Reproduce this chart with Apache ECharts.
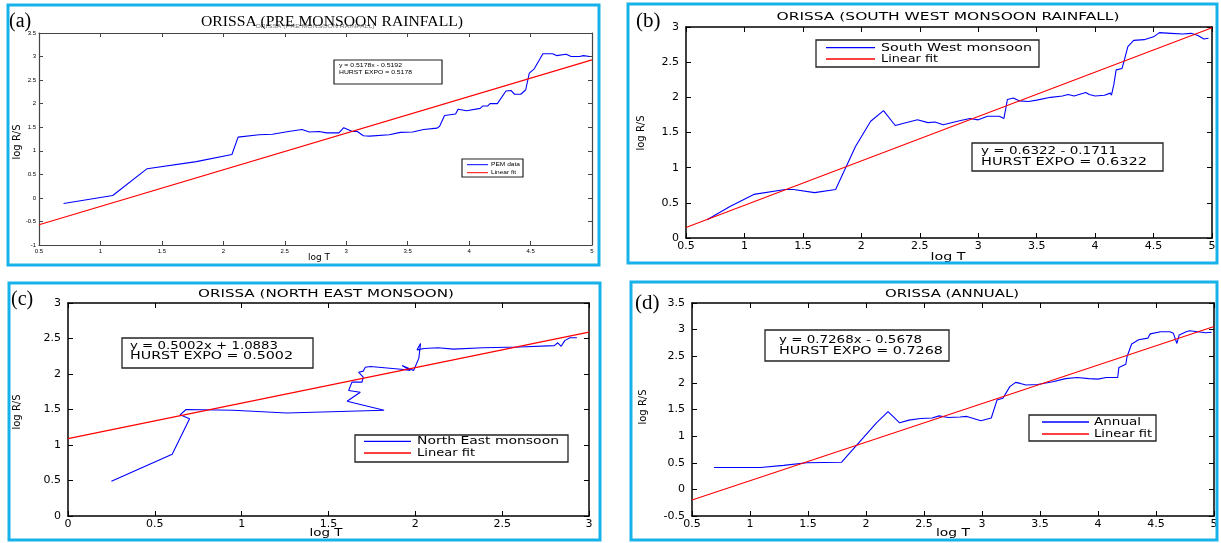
<!DOCTYPE html>
<html><head><meta charset="utf-8">
<script src="https://cdn.jsdelivr.net/npm/echarts@6/dist/echarts.min.js"></script>
<style>html,body{margin:0;padding:0;background:#fff}#c{width:1221px;height:543px}</style>
</head><body><div id="c"></div>
<script>
// ---------- DATA ----------
// (a) Pre monsoon
const preLogT  = [0.70,1.10,1.38,1.78,2.07,2.12,2.29,2.40,2.53,2.64,2.70,2.78,2.84,2.94,2.98,3.05,3.09,3.14,3.19,3.35,3.44,3.54,3.63,3.74,3.76,3.80,3.89,3.91,3.98,4.09,4.11,4.15,4.17,4.23,4.30,4.34,4.37,4.42,4.46,4.49,4.53,4.57,4.60,4.68,4.71,4.79,4.83,4.90,4.93,4.98];
const preLogRS = [-0.12,0.05,0.62,0.77,0.92,1.29,1.34,1.35,1.41,1.45,1.40,1.41,1.38,1.38,1.49,1.41,1.41,1.32,1.31,1.34,1.39,1.40,1.45,1.48,1.52,1.75,1.78,1.88,1.85,1.90,1.95,1.95,2.00,2.00,2.27,2.28,2.20,2.20,2.29,2.65,2.74,2.92,3.06,3.06,3.02,3.05,3.00,3.00,3.02,3.00];
const preFitLogT  = [0.5, 5];
const preFitLogRS = [-0.57, 2.93];

// (b) South west monsoon
const swLogT  = [0.68,0.88,1.08,1.35,1.42,1.60,1.78,1.95,2.08,2.19,2.29,2.48,2.57,2.63,2.70,2.85,2.93,3.00,3.08,3.18,3.22,3.25,3.30,3.35,3.43,3.50,3.62,3.72,3.77,3.82,3.92,3.95,4.00,4.08,4.13,4.14,4.16,4.18,4.23,4.25,4.28,4.33,4.42,4.50,4.55,4.65,4.75,4.82,4.88,4.93,4.97];
const swLogRS = [0.26,0.45,0.62,0.69,0.69,0.645,0.69,1.30,1.66,1.81,1.60,1.68,1.64,1.65,1.61,1.67,1.70,1.68,1.73,1.73,1.70,1.97,1.99,1.95,1.94,1.96,2.00,2.02,2.04,2.02,2.07,2.04,2.02,2.03,2.06,2.03,2.18,2.39,2.41,2.53,2.72,2.81,2.82,2.86,2.92,2.91,2.90,2.91,2.88,2.83,2.84];
const swFitLogT  = [0.5, 5];
const swFitLogRS = [0.15, 2.99];

// (c) North east monsoon
const neLogT  = [0.25,0.60,0.70,0.645,0.68,0.95,1.26,1.82,1.607,1.683,1.616,1.635,1.693,1.70,1.673,1.70,1.712,1.741,1.933,1.971,1.924,1.99,2.02,2.03,2.01,2.05,2.13,2.22,2.39,2.60,2.80,2.82,2.84,2.86,2.89,2.93];
const neLogRS = [0.49,0.87,1.37,1.425,1.50,1.49,1.45,1.49,1.617,1.744,1.768,1.885,1.885,1.955,2.025,2.04,2.096,2.106,2.063,2.05,2.12,2.05,2.22,2.43,2.34,2.36,2.37,2.35,2.37,2.38,2.40,2.44,2.39,2.47,2.51,2.51];
const neFitLogT  = [0, 3];
const neFitLogRS = [1.09, 2.59];

// (d) Annual
const anLogT  = [0.69,1.09,1.29,1.49,1.79,2.09,2.19,2.29,2.37,2.47,2.57,2.63,2.71,2.81,2.87,2.99,3.08,3.13,3.18,3.24,3.29,3.33,3.38,3.48,3.61,3.72,3.82,3.92,4.00,4.07,4.17,4.18,4.24,4.25,4.29,4.35,4.43,4.45,4.54,4.62,4.65,4.68,4.70,4.76,4.79,4.86,4.93,4.98];
const anLogRS = [0.41,0.41,0.45,0.50,0.51,1.25,1.46,1.25,1.30,1.33,1.34,1.38,1.35,1.36,1.37,1.29,1.34,1.68,1.71,1.93,2.01,1.99,1.96,1.97,2.02,2.08,2.10,2.08,2.07,2.10,2.10,2.29,2.35,2.49,2.73,2.81,2.84,2.92,2.96,2.96,2.93,2.74,2.90,2.96,2.98,2.96,2.94,2.95];
const anFitLogT  = [0.5, 5];
const anFitLogRS = [-0.2, 3.06];

// axis ranges [min, max, interval]
const xRangeA = [0.5, 5, 0.5], yRangeA = [-1, 3.5, 0.5];
const xRangeB = [0.5, 5, 0.5], yRangeB = [0, 3, 0.5];
const xRangeC = [0, 3, 0.5],   yRangeC = [0, 3, 0.5];
const xRangeD = [0.5, 5, 0.5], yRangeD = [-0.5, 3.5, 0.5];

// texts
const titles = ['ORISSA (PRE MONSOON RAINFALL)','ORISSA (SOUTH WEST MONSOON RAINFALL)','ORISSA (NORTH EAST MONSOON)','ORISSA (ANNUAL)'];
const eqLines = [
  ['y = 0.5178x - 0.5192','HURST EXPO = 0.5178'],
  ['y = 0.6322 - 0.1711','HURST EXPO = 0.6322'],
  ['y = 0.5002x + 1.0883','HURST EXPO = 0.5002'],
  ['y = 0.7268x - 0.5678','HURST EXPO = 0.7268']
];
const legendNames = [['PEM data','Linear fit'],['South West monsoon','Linear fit'],['North East monsoon','Linear fit'],['Annual','Linear fit']];
const panelTags = ['(a)','(b)','(c)','(d)'];

// ---------- BUILD ----------
function pairs(xs, ys){ return xs.map((x,i)=>[x, ys[i]]); }
const mctx = document.createElement('canvas').getContext('2d');
function scaleFor(text, size, family, w){ mctx.font = size + 'px ' + family; return w / mctx.measureText(text).width; }

const SANS = 'DejaVu Sans';
const grids = [
  {left:39,  top:33,  width:553, height:212},
  {left:686, top:27,  width:526, height:211},
  {left:68,  top:303, width:521, height:213},
  {left:692, top:303, width:522, height:213}
];
const ranges = [[xRangeA,yRangeA],[xRangeB,yRangeB],[xRangeC,yRangeC],[xRangeD,yRangeD]];
const labelSize = [6, 11, 11, 11];
const axisColor = ['#444','#000','#000','#000'];

const xAxes = [], yAxes = [];
ranges.forEach((r,gi)=>{
  const [xr, yr] = r;
  const common = (pos, show) => ({
    gridIndex: gi, type:'value', position: pos, scale:false,
    axisLine:{show:true, onZero:false, lineStyle:{color:axisColor[gi], width: gi===0?1.2:1.5}},
    axisTick:{show:true, inside:true, length: gi===0?4:5, lineStyle:{color:axisColor[gi], width:1}},
    splitLine:{show:false},
    axisLabel:{show:show, fontSize:labelSize[gi], fontFamily: gi===0?'Liberation Sans':SANS, color:'#000',
               margin: gi===0?3:(pos==='bottom'?3:7)}
  });
  xAxes.push(Object.assign(common('bottom', true), {min:xr[0], max:xr[1], interval:xr[2]}));
  xAxes.push(Object.assign(common('top', false), {min:xr[0], max:xr[1], interval:xr[2]}));
  yAxes.push(Object.assign(common('left', true), {min:yr[0], max:yr[1], interval:yr[2]}));
  yAxes.push(Object.assign(common('right', false), {min:yr[0], max:yr[1], interval:yr[2]}));
});

const dataSets = [
  [pairs(preLogT, preLogRS), pairs(preFitLogT, preFitLogRS)],
  [pairs(swLogT, swLogRS), pairs(swFitLogT, swFitLogRS)],
  [pairs(neLogT, neLogRS), pairs(neFitLogT, neFitLogRS)],
  [pairs(anLogT, anLogRS), pairs(anFitLogT, anFitLogRS)]
];
const series = [];
dataSets.forEach((ds, gi)=>{
  series.push({type:'line', name:legendNames[gi][0], xAxisIndex:gi*2, yAxisIndex:gi*2, data:ds[0],
    showSymbol:false, symbol:'none', lineStyle:{color:'#0000ff', width:1.1}, z:3});
  series.push({type:'line', name:legendNames[gi][1], xAxisIndex:gi*2, yAxisIndex:gi*2, data:ds[1],
    showSymbol:false, symbol:'none', lineStyle:{color:'#ff0000', width:1.1}, z:4});
});

// ---------- GRAPHICS (layout) ----------
const g = [];
function txt(text, x, y, size, family, w, align, extra){
  const el = {type:'text', x:x, y:y, z:100,
    scaleX: w ? scaleFor(text, size, family, w) : 1,
    style:{text:text, fontSize:size, fontFamily:family, fill:'#000', align:align||'left', verticalAlign:'middle'}};
  return Object.assign(el, extra||{});
}
function box(x, y, w, h, lw){
  g.push({type:'rect', z:90, shape:{x:x, y:y, width:w, height:h}, style:{fill:'#fff', stroke:'#222', lineWidth:lw||1.3}});
}
function seg(x1,y1,x2,y2,color,lw){
  g.push({type:'line', z:100, shape:{x1:x1,y1:y1,x2:x2,y2:y2}, style:{stroke:color, lineWidth:lw||1.3}});
}
// cyan panel frames
[[8,5,591,260],[628,4,589,259],[9,283,591,257],[631,282,586,258]].forEach(b=>{
  g.push({type:'rect', z:110, shape:{x:b[0], y:b[1], width:b[2], height:b[3]}, style:{fill:'none', stroke:'#18b2ea', lineWidth:3}});
});

// panel tags
g.push(txt(panelTags[0], 9, 22, 20, 'Liberation Serif', 0, 'left'));
g.push(txt(panelTags[1], 636, 21, 21, 'Liberation Serif', 0, 'left'));
g.push(txt(panelTags[2], 11, 300, 20, 'Liberation Serif', 0, 'left'));
g.push(txt(panelTags[3], 635, 303, 21, 'Liberation Serif', 0, 'left'));

// titles
g.push(txt(titles[0], 315, 27, 5, 'Liberation Sans', 119, 'center', {style:{text:titles[0], fontSize:5, fontFamily:'Liberation Sans', fill:'#777', align:'center', verticalAlign:'middle'}}));
g.push(txt(titles[0], 332, 22, 15, 'Liberation Serif', 262, 'center'));
g.push(txt(titles[1], 948, 17, 10, SANS, 343, 'center'));
g.push(txt(titles[2], 326, 294, 10, SANS, 256, 'center'));
g.push(txt(titles[3], 952, 294, 10, SANS, 134, 'center'));

// axis names
g.push(txt('log T', 319, 258, 8, SANS, 22, 'center'));
g.push(txt('log T', 948, 257, 10, SANS, 35, 'center'));
g.push(txt('log T', 326, 533, 10, SANS, 33, 'center'));
g.push(txt('log T', 953, 533, 10, SANS, 34, 'center'));
[[17,142],[641,133],[17,412],[643,407]].forEach(p=>{
  g.push({type:'text', x:p[0], y:p[1], z:100, rotation:Math.PI/2,
    style:{text:'log R/S', fontSize:10, fontFamily:SANS, fill:'#000', align:'center', verticalAlign:'middle'}});
});

// equation boxes
box(334, 60, 108, 24, 1.2);
g.push(txt(eqLines[0][0], 339, 65.5, 6, 'Liberation Sans', 63, 'left'));
g.push(txt(eqLines[0][1], 339, 72, 6, 'Liberation Sans', 73, 'left'));
box(972, 143, 191, 28);
g.push(txt(eqLines[1][0], 981, 151, 10, SANS, 136, 'left'));
g.push(txt(eqLines[1][1], 981, 162, 10, SANS, 166, 'left'));
box(122, 338, 191, 30);
g.push(txt(eqLines[2][0], 130, 346, 10, SANS, 148, 'left'));
g.push(txt(eqLines[2][1], 130, 356, 10, SANS, 163, 'left'));
box(765, 330, 184, 31);
g.push(txt(eqLines[3][0], 779, 340, 10, SANS, 143, 'left'));
g.push(txt(eqLines[3][1], 779, 351, 10, SANS, 164, 'left'));

// legend boxes
box(462, 159, 61, 18, 1.2);
seg(467, 164.7, 488, 164.7, '#0000ff', 1); seg(467, 172.7, 488, 172.7, '#ff0000', 1);
g.push(txt(legendNames[0][0], 491, 164.7, 5.5, 'Liberation Sans', 29, 'left'));
g.push(txt(legendNames[0][1], 491, 172.7, 5.5, 'Liberation Sans', 25, 'left'));

box(816, 40, 223, 27);
seg(826, 47.7, 875, 47.7, '#0000ff'); seg(826, 59, 875, 59, '#ff0000');
g.push(txt(legendNames[1][0], 881, 48, 10, SANS, 151, 'left'));
g.push(txt(legendNames[1][1], 881, 59.5, 10, SANS, 57, 'left'));

box(355, 435, 213, 27);
seg(364, 441.3, 411, 441.3, '#0000ff'); seg(364, 453, 411, 453, '#ff0000');
g.push(txt(legendNames[2][0], 417, 441.5, 10, SANS, 142, 'left'));
g.push(txt(legendNames[2][1], 417, 453, 10, SANS, 58, 'left'));

box(1029, 415, 127, 26);
seg(1042, 422, 1089, 422, '#0000ff'); seg(1042, 434, 1089, 434, '#ff0000');
g.push(txt(legendNames[3][0], 1094, 422, 10, SANS, 47, 'left'));
g.push(txt(legendNames[3][1], 1094, 434, 10, SANS, 58, 'left'));

const chart = echarts.init(document.getElementById('c'), null, {renderer:'canvas'});
chart.setOption({
  animation:false,
  backgroundColor:'#fff',
  grid: grids,
  xAxis: xAxes,
  yAxis: yAxes,
  series: series,
  graphic: g
});
</script></body></html>
